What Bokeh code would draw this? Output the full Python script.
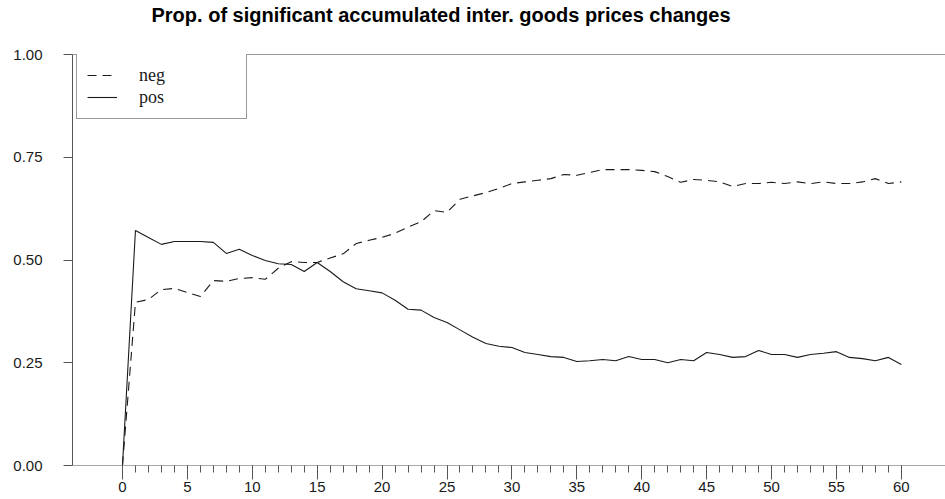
from bokeh.plotting import figure
from bokeh.models import (ColumnDataSource, SingleIntervalTicker, FixedTicker, Span,
                          Legend, LegendItem, Range1d, Title)
from bokeh.embed import file_html
from bokeh.resources import INLINE

# ---- data -------------------------------------------------------------
horizon = list(range(0, 61))
neg = [0.000, 0.397, 0.404, 0.428, 0.431, 0.421, 0.411, 0.450, 0.448, 0.455,
       0.457, 0.453, 0.480, 0.496, 0.494, 0.494, 0.505, 0.515, 0.540, 0.548,
       0.555, 0.565, 0.580, 0.593, 0.620, 0.616, 0.648, 0.656, 0.664, 0.674,
       0.686, 0.690, 0.694, 0.698, 0.708, 0.706, 0.713, 0.720, 0.720, 0.720,
       0.718, 0.715, 0.703, 0.689, 0.696, 0.694, 0.690, 0.679, 0.686, 0.686,
       0.689, 0.686, 0.690, 0.686, 0.690, 0.686, 0.686, 0.690, 0.698, 0.686,
       0.690]
pos = [0.000, 0.572, 0.555, 0.538, 0.545, 0.545, 0.545, 0.543, 0.516, 0.526,
       0.511, 0.499, 0.491, 0.489, 0.472, 0.494, 0.472, 0.447, 0.430, 0.425,
       0.420, 0.402, 0.380, 0.378, 0.360, 0.348, 0.330, 0.312, 0.297, 0.290,
       0.287, 0.275, 0.270, 0.265, 0.263, 0.253, 0.255, 0.258, 0.255, 0.265,
       0.258, 0.258, 0.250, 0.258, 0.255, 0.275, 0.270, 0.263, 0.265, 0.280,
       0.270, 0.270, 0.263, 0.270, 0.273, 0.277, 0.263, 0.260, 0.255, 0.263,
       0.246]
y_ticks = [0.0, 0.25, 0.5, 0.75, 1.0]
y_tick_labels = {0.0: "0.00", 0.25: "0.25", 0.5: "0.50", 0.75: "0.75", 1.0: "1.00"}
title_text = "Prop. of significant accumulated inter. goods prices changes"
series_labels = ["neg", "pos"]

src = ColumnDataSource(dict(h=horizon, neg=neg, pos=pos))

INK = "#1a1a1a"
AXIS = "#555555"

p = figure(width=945, height=499, output_backend="svg", toolbar_location=None,
           x_range=Range1d(-3.85, 63.4), y_range=Range1d(0, 1),
           min_border_left=72, min_border_right=0, min_border_top=54,
           min_border_bottom=34, title_location=None)
p.outline_line_color = None
p.grid.visible = False
p.background_fill_color = "white"
p.border_fill_color = "white"

# spacer panel next to the frame, then the real title outermost
p.add_layout(Title(text=" ", text_font_size="2px", standoff=24), "above")
p.add_layout(Title(text=title_text, align="left", offset=79, text_font="Liberation Sans",
                   text_font_size="20px", text_font_style="bold", text_color="#000000",
                   standoff=2), "above")

# x axis
xa = p.xaxis[0]
xa.ticker = SingleIntervalTicker(interval=5, num_minor_ticks=5)
xa.bounds = (0, 60)
xa.axis_line_color = None
xa.major_tick_line_color = AXIS
xa.minor_tick_line_color = AXIS
xa.major_tick_in = 0
xa.major_tick_out = 14
xa.minor_tick_in = 0
xa.minor_tick_out = 7
xa.major_label_standoff = 2
xa.major_label_text_font = "Liberation Sans"
xa.major_label_text_font_size = "15px"
xa.major_label_text_color = INK

# y axis
ya = p.yaxis[0]
ya.ticker = FixedTicker(ticks=y_ticks)
ya.major_label_overrides = y_tick_labels
ya.axis_line_color = AXIS
ya.major_tick_line_color = AXIS
ya.minor_tick_line_color = None
ya.major_tick_in = 0
ya.major_tick_out = 9
ya.major_label_standoff = 21
ya.major_label_text_font = "Liberation Sans"
ya.major_label_text_font_size = "15px"
ya.major_label_text_color = INK

# frame lines (top and bottom across the width)
p.add_layout(Span(location=1.0, dimension="width", line_color="#333333", line_width=1))
p.add_layout(Span(location=0.0, dimension="width", line_color=AXIS, line_width=1))

r_neg = p.line("h", "neg", source=src, line_color=INK, line_width=1.1, line_dash="9 6")
r_pos = p.line("h", "pos", source=src, line_color=INK, line_width=1.1)

legend = Legend(items=[LegendItem(label=series_labels[0], renderers=[r_neg]),
                       LegendItem(label=series_labels[1], renderers=[r_pos])],
                location=(4, 411 - 65), margin=0, padding=10, spacing=0,
                glyph_width=30, glyph_height=22, label_height=22, label_width=97,
                label_standoff=22,
                label_text_font="Liberation Serif", label_text_font_size="18px",
                label_text_color=INK, border_line_color="#333333", border_line_width=1,
                background_fill_alpha=1.0)
p.add_layout(legend, "center")

open("out.html", "w").write(file_html(p, INLINE))
